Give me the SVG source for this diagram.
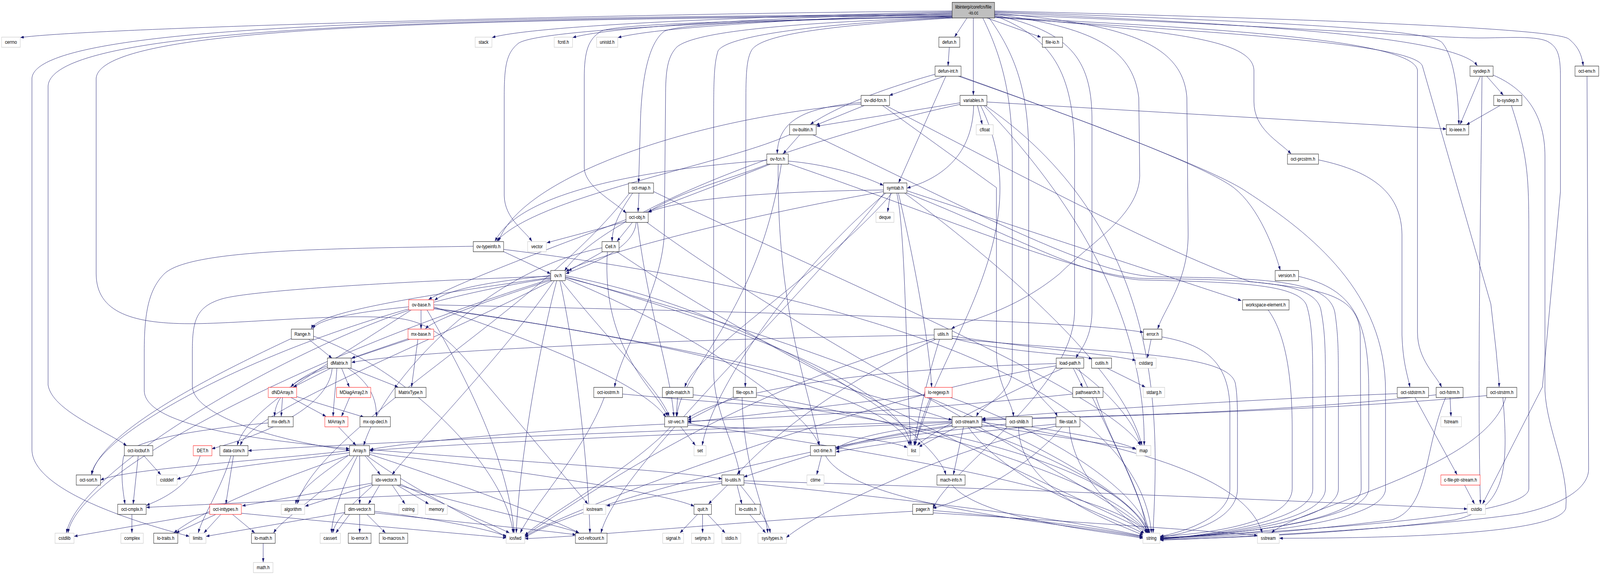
<svg xmlns="http://www.w3.org/2000/svg" width="5058" height="1471" viewBox="0 0 5058 1471" preserveAspectRatio="none">
<style>
svg{width:100%;height:100%}
.e{fill:none;stroke:#191970;stroke-width:1;marker-end:url(#ah)}
.n rect{fill:#fff;stroke:#000;stroke-width:1}
.n.g rect{stroke:#bfbfbf}
.n.r rect{stroke:#ff0000}
.n.root rect{fill:#bfbfbf;stroke:#000}
.n text{font-family:"Liberation Sans",Arial,Helvetica,sans-serif;font-size:13.3px;fill:#000;text-anchor:middle}
</style>
<defs>
<marker id="ah" markerWidth="10" markerHeight="7" refX="10" refY="3.5" orient="auto" markerUnits="userSpaceOnUse"><path d="M0,0 L10,3.5 L0,7 z" fill="#191970" stroke="#191970" stroke-width="0.5"/></marker>
</defs>
<rect x="0" y="0" width="5058" height="1471" fill="#fff"/>
<g id="edges">
<path class="e" d="M3010,28 C2000,35 300,70 65,96"/>
<path class="e" d="M3010,30 C2500,40 1700,62 1556,96"/>
<path class="e" d="M3010,32 C2600,42 1960,62 1811,96"/>
<path class="e" d="M3010,34 C2700,44 2110,64 1954,96"/>
<path class="e" d="M3010,36 C1500,46 115,56 101,200 L101,1150 C101,1250 400,1330 598,1372"/>
<path class="e" d="M3010,38 C1500,48 165,60 152,220 L152,985 C165,1050 330,1100 400,1140"/>
<path class="e" d="M3010,40 C1500,50 320,62 304,200 L304,700 C304,800 420,830 620,828 C800,826 1100,800 1265,815 C1400,830 1470,920 1540,985 L1858,1289"/>
<path class="e" d="M3010,41 C2200,55 1700,80 1640,110 C1600,135 1594,170 1594,250 L1594,500 C1595,560 1660,590 1681,617"/>
<path class="e" d="M3010,42 C2400,52 1950,60 1900,80 C1860,100 1847,130 1847,200 L1847,430 C1850,480 1950,520 1979,545"/>
<path class="e" d="M3010,43 C2500,50 2150,60 2100,80 C2050,110 2030,200 2025,300 L2019,467"/>
<path class="e" d="M3010,44 C2500,58 2200,80 2140,120 C2110,145 2104,180 2104,250 L2100,600 C2090,750 1960,900 1943,990"/>
<path class="e" d="M3010,45 C2600,60 2300,90 2270,130 C2258,160 2256,200 2256,300 L2256,950 C2256,1050 2330,1150 2338,1214"/>
<path class="e" d="M3012,46 C2600,66 2400,90 2375,130 C2362,150 2358,180 2358,250 L2356,990"/>
<path class="e" d="M3057,46 L3018,94"/>
<path class="e" d="M3077,46 L3077,243"/>
<path class="e" d="M3120,46 L3290,95"/>
<path class="e" d="M3107,46 C3170,150 3200,250 3200,400 L3200,950 C3195,1010 3100,1040 3087,1065"/>
<path class="e" d="M3127,46 C3220,150 3252,250 3252,400 L3252,950 C3260,1010 3330,1040 3342,1065"/>
<path class="e" d="M3144,38 C3380,80 3450,150 3452,300 L3452,800 C3450,870 3410,900 3402,916"/>
<path class="e" d="M3144,40 C3340,100 3397,200 3397,400 L3397,800 C3390,1000 3000,1200 2950,1300"/>
<path class="e" d="M3144,36 C3450,70 3580,120 3600,250 L3603,450 C3600,550 3450,620 3350,700 C3200,800 3050,820 3008,841"/>
<path class="e" d="M3144,34 C3550,60 3740,110 3752,250 L3756,600 C3756,720 3680,790 3660,841"/>
<path class="e" d="M3144,32 C3900,60 4600,90 4670,168"/>
<path class="e" d="M3144,28 C4000,45 4920,70 4960,100 C4990,120 5000,140 5005,168"/>
<path class="e" d="M3144,30 C4200,60 4530,80 4560,110 C4600,150 4610,250 4612,318"/>
<path class="e" d="M3144,42 C3700,80 3960,100 3964,180 L3964,260 C3964,330 4040,360 4081,393"/>
<path class="e" d="M3144,44 C3800,70 4470,100 4481,180 L4481,850 C4481,920 4540,960 4557,990"/>
<path class="e" d="M3144,45 C3800,80 4480,110 4497,170 L4713,778 L4730,900 C4735,950 4739,970 4739,990"/>
<path class="e" d="M3144,37 C3900,60 4500,95 4658,97 C4750,98 4844,90 4890,105 C4925,120 4933,140 4933,200 L4933,490 L4876,990 L4687,1289"/>
<path class="e" d="M3001,121 L2997,168"/>
<path class="e" d="M2985,195 L2812,244"/>
<path class="e" d="M2956,190 C2800,225 2650,270 2562,318"/>
<path class="e" d="M2990,195 L2841,467"/>
<path class="e" d="M3030,195 C3400,300 3800,420 3900,480 C3980,530 4030,640 4047,691"/>
<path class="e" d="M3036,195 C3500,330 3850,440 3940,490 C4150,600 4380,750 4380,1000 L4380,1250 C4380,1340 3900,1372 3668,1376"/>
<path class="e" d="M2732,270 L2580,320"/>
<path class="e" d="M2722,262 C2560,275 2460,300 2457,393"/>
<path class="e" d="M2722,266 C2200,300 1650,450 1576,617"/>
<path class="e" d="M2790,270 L3150,480 L3150,900 C3150,980 3200,1030 3204,1065"/>
<path class="e" d="M2800,270 C3300,480 3700,650 3950,720 C4150,740 4290,745 4300,850 L4303,1250 C4303,1340 3850,1370 3668,1377"/>
<path class="e" d="M3090,270 L3105,318"/>
<path class="e" d="M3078,270 C3075,380 3000,450 2868,481"/>
<path class="e" d="M3035,263 L2582,323"/>
<path class="e" d="M3035,267 C2500,360 1900,550 1785,693"/>
<path class="e" d="M3120,261 L4572,330"/>
<path class="e" d="M3100,270 C3300,600 2950,900 2893,1139"/>
<path class="e" d="M3110,270 C3500,600 3620,900 3617,1139"/>
<path class="e" d="M3115,270 C3700,600 3660,1100 3645,1363"/>
<path class="e" d="M4742,270 L4636,319"/>
<path class="e" d="M4778,270 C4830,400 4833,450 4833,600 L4833,1250 C4833,1330 4000,1360 3668,1377"/>
<path class="e" d="M4680,195 L4616,318"/>
<path class="e" d="M4700,195 L4752,243"/>
<path class="e" d="M4685,195 C4680,600 4670,1000 4680,1289"/>
<path class="e" d="M4720,192 C4830,230 4884,300 4884,400 L4884,1000 C4890,1100 4960,1200 4950,1300 C4930,1360 4500,1377 4045,1377"/>
<path class="e" d="M5017,195 L5022,1200 C5022,1260 4900,1300 4800,1315 C4500,1350 3900,1375 3668,1382"/>
<path class="e" d="M2528,345 L2476,393"/>
<path class="e" d="M2500,343 C2300,420 1700,500 1570,617"/>
<path class="e" d="M2570,345 C3100,550 3450,700 3650,708 C4000,712 4200,715 4220,800 C4231,860 4231,900 4231,1000 L4231,1250 C4231,1338 3850,1369 3668,1378"/>
<path class="e" d="M2424,410 C2100,430 1650,480 1565,617"/>
<path class="e" d="M2492,412 C2600,420 2700,440 2792,474"/>
<path class="e" d="M2428,420 C2300,460 2150,490 2050,542"/>
<path class="e" d="M2435,420 C2000,560 1500,700 1355,766"/>
<path class="e" d="M2460,420 C2455,800 2560,1000 2590,1139"/>
<path class="e" d="M2470,420 C2400,800 2150,950 2140,1065"/>
<path class="e" d="M2490,418 C3000,560 3400,700 3600,712 C3950,716 4150,718 4175,790 C4190,850 4190,900 4190,1000 L4190,1250 C4190,1335 3850,1367 3668,1379"/>
<path class="e" d="M4168,409 C4350,440 4430,500 4432,600 L4432,857 C4435,930 4450,960 4457,990"/>
<path class="e" d="M2020,494 L2017,542"/>
<path class="e" d="M2000,494 C1960,540 1935,580 1935,617"/>
<path class="e" d="M1990,494 C1700,800 1000,1100 940,1289"/>
<path class="e" d="M2066,490 C2600,700 3500,1000 3605,1139"/>
<path class="e" d="M2815,494 L2806,542"/>
<path class="e" d="M2793,486 C2400,490 2150,510 2050,543"/>
<path class="e" d="M2793,490 C2300,560 1850,660 1789,695"/>
<path class="e" d="M2867,488 L3924,769"/>
<path class="e" d="M2820,494 C2600,700 2200,900 2165,990"/>
<path class="e" d="M2840,494 C2900,700 2940,900 2945,990"/>
<path class="e" d="M2835,494 C2865,600 2865,1000 2880,1139"/>
<path class="e" d="M2860,494 C3200,700 3550,950 3610,1139"/>
<path class="e" d="M2800,494 C2500,700 2250,1000 2220,1139"/>
<path class="e" d="M2867,494 C3200,600 3400,700 3600,716 C3900,722 4100,725 4130,780 C4150,830 4150,900 4150,1000 L4150,1250 C4150,1330 3850,1365 3668,1380"/>
<path class="e" d="M2795,494 C2500,800 1950,1200 1900,1363"/>
<path class="e" d="M1979,567 L1729,621"/>
<path class="e" d="M1999,569 L1951,617"/>
<path class="e" d="M2011,569 C2005,640 1850,680 1789,700"/>
<path class="e" d="M2015,569 C2050,800 2120,950 2130,1065"/>
<path class="e" d="M2045,569 C2600,900 3500,1250 3632,1363"/>
<path class="e" d="M1590,643 L1740,700"/>
<path class="e" d="M1496,630 C1000,636 600,640 520,700 C470,740 456,800 456,900 L456,1000 C460,1100 900,1130 1104,1148"/>
<path class="e" d="M1592,638 C2800,760 3600,1000 3640,1363"/>
<path class="e" d="M1905,644 L1797,693"/>
<path class="e" d="M1903,634 C1500,700 1200,1000 1150,1139"/>
<path class="e" d="M1920,644 C1900,900 2080,1000 2110,1065"/>
<path class="e" d="M1950,644 C2600,1000 3500,1300 3630,1363"/>
<path class="e" d="M1741,705 C1550,720 1420,740 1374,768"/>
<path class="e" d="M1745,716 C1500,780 1370,820 1345,841"/>
<path class="e" d="M1741,710 C1300,760 1000,800 985,841"/>
<path class="e" d="M1741,707 C1400,715 800,740 700,765 C620,785 608,820 608,900 L608,990 C615,1060 850,1125 1104,1152"/>
<path class="e" d="M1745,718 C1300,900 800,1050 760,1139"/>
<path class="e" d="M1752,718 C1600,900 1300,1150 1240,1214"/>
<path class="e" d="M1787,705 C2400,800 2950,1100 2990,1214"/>
<path class="e" d="M1785,712 C2200,850 2550,1050 2590,1139"/>
<path class="e" d="M1775,718 C1900,850 2090,1000 2115,1065"/>
<path class="e" d="M1741,712 C1000,800 300,1100 290,1214"/>
<path class="e" d="M1741,714 C1000,900 250,1200 215,1363"/>
<path class="e" d="M1760,718 C1700,900 1640,1200 1632,1363"/>
<path class="e" d="M1787,710 C2700,900 3550,1200 3635,1363"/>
<path class="e" d="M1787,708 C2400,850 2850,1000 2880,1139"/>
<path class="e" d="M1770,718 C1820,900 1860,1200 1865,1363"/>
<path class="e" d="M1331,793 L1331,841"/>
<path class="e" d="M1292,785 C1100,800 1000,820 990,841"/>
<path class="e" d="M1300,793 C1000,950 780,1050 750,1139"/>
<path class="e" d="M1371,785 C1800,900 2050,1000 2105,1067"/>
<path class="e" d="M1371,780 C2500,800 3400,820 3614,850"/>
<path class="e" d="M1295,793 C900,900 250,1200 210,1363"/>
<path class="e" d="M1350,793 C1500,1000 1610,1200 1625,1363"/>
<path class="e" d="M1371,790 C2400,900 2850,1050 2875,1139"/>
<path class="e" d="M1371,788 C2800,950 3550,1200 3630,1363"/>
<path class="e" d="M1321,868 L1301,990"/>
<path class="e" d="M1292,866 L1112,916"/>
<path class="e" d="M1295,868 C1100,920 950,960 920,990"/>
<path class="e" d="M976,868 L1049,916"/>
<path class="e" d="M921,866 C700,950 320,1100 290,1214"/>
<path class="e" d="M991,860 C1300,950 1600,1200 1622,1363"/>
<path class="e" d="M1045,942 L928,990"/>
<path class="e" d="M1080,942 L1104,990"/>
<path class="e" d="M1108,942 L1258,990"/>
<path class="e" d="M1035,936 C960,960 870,1000 868,1065"/>
<path class="e" d="M1065,942 C1060,1000 1055,1030 1053,1065"/>
<path class="e" d="M1100,942 C1170,980 1190,1020 1190,1065"/>
<path class="e" d="M1050,942 C1040,1050 800,1120 670,1148"/>
<path class="e" d="M893,1017 L889,1065"/>
<path class="e" d="M920,1017 L1030,1065"/>
<path class="e" d="M935,1014 L1150,1067"/>
<path class="e" d="M1105,1017 L1080,1065"/>
<path class="e" d="M1070,1092 L1125,1139"/>
<path class="e" d="M848,1082 C600,1100 400,1130 390,1170 C380,1220 390,1260 395,1289"/>
<path class="e" d="M1968,1008 C2400,1040 2800,1060 3009,1073"/>
<path class="e" d="M1910,1017 C1850,1150 1680,1300 1645,1363"/>
<path class="e" d="M2142,1017 L2138,1065"/>
<path class="e" d="M2191,1010 C3000,1080 3550,1200 3628,1363"/>
<path class="e" d="M2320,1015 L2175,1075"/>
<path class="e" d="M2346,1017 C2350,1200 2420,1300 2427,1363"/>
<path class="e" d="M2391,1010 C3000,1100 3560,1250 3626,1363"/>
<path class="e" d="M2945,1017 L2890,1139"/>
<path class="e" d="M3005,1017 C3300,1100 3600,1250 3633,1363"/>
<path class="e" d="M2924,1010 C2600,1040 2300,1070 2175,1080"/>
<path class="e" d="M3391,1008 C2900,1050 2400,1070 2175,1078"/>
<path class="e" d="M3465,1017 C3520,1150 3610,1250 3625,1363"/>
<path class="e" d="M4417,1007 C4000,1020 3400,1050 3105,1071"/>
<path class="e" d="M4473,1017 L4606,1214"/>
<path class="e" d="M4584,1017 L4587,1065"/>
<path class="e" d="M4540,1010 C4000,1060 3400,1065 3105,1073"/>
<path class="e" d="M4570,1017 C4500,1150 4520,1300 4400,1330 C4000,1370 3800,1375 3668,1378"/>
<path class="e" d="M4700,1012 C4200,1050 3500,1065 3105,1075"/>
<path class="e" d="M4760,1017 C4700,1200 4100,1300 4020,1363"/>
<path class="e" d="M4751,1017 C4770,1200 4760,1300 4600,1330 C4200,1370 3800,1378 3668,1380"/>
<path class="e" d="M2152,1092 L2198,1139"/>
<path class="e" d="M2101,1085 C1700,1100 1300,1130 1170,1150"/>
<path class="e" d="M2120,1092 C2000,1200 1700,1330 1660,1370"/>
<path class="e" d="M2174,1088 C2500,1100 2800,1120 2868,1145"/>
<path class="e" d="M2174,1083 C2700,1150 3500,1250 3628,1363"/>
<path class="e" d="M3046,1092 L3014,1214"/>
<path class="e" d="M3025,1092 L2905,1143"/>
<path class="e" d="M3104,1087 L3590,1148"/>
<path class="e" d="M3010,1082 C2800,1100 2700,1120 2643,1147"/>
<path class="e" d="M3060,1092 C3200,1250 3550,1330 3615,1366"/>
<path class="e" d="M3104,1080 C3700,1150 3950,1250 3990,1363"/>
<path class="e" d="M3010,1080 C2500,1100 1500,1130 1168,1153"/>
<path class="e" d="M3010,1078 C2000,1100 1000,1140 785,1153"/>
<path class="e" d="M3012,1088 C2700,1120 2500,1180 2352,1220"/>
<path class="e" d="M3015,1090 C2500,1150 1800,1300 1660,1375"/>
<path class="e" d="M3180,1085 C2900,1110 2700,1130 2643,1150"/>
<path class="e" d="M3260,1092 C3400,1110 3550,1130 3592,1150"/>
<path class="e" d="M3220,1092 C3220,1250 3500,1330 3614,1369"/>
<path class="e" d="M3338,1085 C3000,1110 2750,1140 2643,1156"/>
<path class="e" d="M3357,1092 C3250,1200 3050,1280 2950,1300"/>
<path class="e" d="M3380,1092 C3400,1250 3580,1330 3617,1366"/>
<path class="e" d="M3338,1090 C3000,1150 2600,1300 2486,1375"/>
<path class="e" d="M455,1166 L508,1214"/>
<path class="e" d="M437,1166 L421,1289"/>
<path class="e" d="M633,1166 C600,1250 500,1280 463,1293"/>
<path class="e" d="M738,1166 L714,1289"/>
<path class="e" d="M730,1166 C700,1250 640,1320 627,1363"/>
<path class="e" d="M1137,1166 L1137,1289"/>
<path class="e" d="M1154,1166 L1202,1214"/>
<path class="e" d="M1105,1153 C800,1180 400,1200 318,1228"/>
<path class="e" d="M1105,1158 C900,1180 650,1200 560,1226"/>
<path class="e" d="M1100,1166 C1000,1220 940,1260 935,1289"/>
<path class="e" d="M1105,1164 C900,1220 650,1300 550,1363"/>
<path class="e" d="M1120,1166 C1050,1250 900,1320 865,1363"/>
<path class="e" d="M1130,1166 C1080,1250 1050,1320 1048,1363"/>
<path class="e" d="M1168,1150 C1600,1180 2100,1200 2282,1225"/>
<path class="e" d="M1168,1158 C1600,1200 2100,1260 2194,1295"/>
<path class="e" d="M1168,1162 C1500,1250 1750,1330 1830,1363"/>
<path class="e" d="M1160,1166 C1300,1250 1500,1330 1605,1375"/>
<path class="e" d="M1200,1241 L1165,1289"/>
<path class="e" d="M1176,1236 L766,1294"/>
<path class="e" d="M1176,1240 L965,1295"/>
<path class="e" d="M1240,1241 L1280,1289"/>
<path class="e" d="M1255,1241 L1355,1289"/>
<path class="e" d="M1260,1241 C1500,1300 1750,1340 1830,1363"/>
<path class="e" d="M1265,1238 C1400,1290 1550,1340 1610,1363"/>
<path class="e" d="M1180,1241 C1100,1300 1060,1330 1052,1363"/>
<path class="e" d="M2300,1241 L2240,1289"/>
<path class="e" d="M2330,1241 L2345,1289"/>
<path class="e" d="M2282,1236 L1918,1294"/>
<path class="e" d="M2282,1232 C1800,1250 900,1280 463,1298"/>
<path class="e" d="M2352,1235 C2900,1280 3400,1330 3612,1372"/>
<path class="e" d="M2352,1230 C3200,1250 4200,1285 4638,1302"/>
<path class="e" d="M2340,1241 C2400,1300 2430,1340 2435,1363"/>
<path class="e" d="M2597,1166 L2582,1214"/>
<path class="e" d="M2610,1166 C2700,1300 3400,1340 3612,1375"/>
<path class="e" d="M3010,1241 C3100,1330 3500,1360 3613,1377"/>
<path class="e" d="M4630,1241 L4661,1289"/>
<path class="e" d="M417,1316 L417,1363"/>
<path class="e" d="M663,1312 L235,1372"/>
<path class="e" d="M682,1316 L557,1363"/>
<path class="e" d="M698,1316 L645,1363"/>
<path class="e" d="M735,1316 L805,1363"/>
<path class="e" d="M763,1313 C1100,1340 1450,1365 1600,1376"/>
<path class="e" d="M1105,1316 L1062,1363"/>
<path class="e" d="M1137,1316 L1137,1363"/>
<path class="e" d="M1160,1316 L1218,1363"/>
<path class="e" d="M1090,1311 L652,1372"/>
<path class="e" d="M1184,1312 C1500,1340 1700,1355 1820,1368"/>
<path class="e" d="M1184,1308 C1400,1330 1550,1355 1600,1372"/>
<path class="e" d="M2205,1316 L2150,1363"/>
<path class="e" d="M2221,1316 L2221,1363"/>
<path class="e" d="M2237,1316 L2292,1363"/>
<path class="e" d="M2370,1316 L2420,1363"/>
<path class="e" d="M2885,1308 C2400,1330 1900,1370 1660,1378"/>
<path class="e" d="M2950,1306 C3300,1330 3500,1355 3612,1373"/>
<path class="e" d="M2950,1312 C3500,1340 3850,1360 3975,1370"/>
<path class="e" d="M832,1390 L832,1438"/>
<path class="e" d="M3639,868 L3627,916"/>
<path class="e" d="M3673,862 C3800,880 3888,920 3888,1050 L3888,1250 C3888,1320 3750,1360 3668,1372"/>
<path class="e" d="M3010,865 C3200,905 3400,905 3452,918"/>
<path class="e" d="M3010,860 C3300,895 3500,905 3590,922"/>
<path class="e" d="M2953,857 C2000,870 1300,900 1112,927"/>
<path class="e" d="M2958,868 C2600,1000 2400,1150 2330,1214"/>
<path class="e" d="M2955,866 C2300,1000 1800,1300 1658,1370"/>
<path class="e" d="M3010,866 C3500,905 3880,900 3905,980 C3912,1010 3912,1050 3912,1100 L3912,1250 C3912,1330 3760,1365 3668,1374"/>
<path class="e" d="M2970,868 C2920,1000 2895,1100 2890,1139"/>
<path class="e" d="M3393,942 L3422,990"/>
<path class="e" d="M3339,930 C2700,945 2300,1000 2175,1070"/>
<path class="e" d="M3360,942 C3200,1000 2950,1100 2900,1139"/>
<path class="e" d="M3400,942 C3500,1000 3590,1080 3605,1139"/>
<path class="e" d="M3410,942 C3500,1100 3600,1250 3633,1363"/>
<path class="e" d="M3339,936 C2800,1000 1800,1300 1660,1372"/>
<path class="e" d="M3500,942 L3620,990"/>
<path class="e" d="M4009,793 C4060,850 4085,950 4085,1100 L4085,1250 C4085,1330 3850,1365 3668,1372"/>
<path class="e" d="M4105,707 C4280,740 4327,820 4327,1000 L4327,1250 C4327,1330 3900,1370 3668,1375"/>
</g>
<g id="n-root" class="n root"><rect x="3010" y="6" width="134" height="40"/><text x="3077" y="22">libinterp/corefcn/file</text><text x="3077" y="37">-io.cc</text></g>
<g id="n-cerrno" class="n g"><rect x="5" y="95" width="59" height="26"/><text x="34.5" y="112.5">cerrno</text></g>
<g id="n-stack" class="n g"><rect x="1502" y="95" width="53" height="26"/><text x="1528.5" y="112.5">stack</text></g>
<g id="n-fcntl-h" class="n g"><rect x="1752" y="95" width="58" height="26"/><text x="1781" y="112.5">fcntl.h</text></g>
<g id="n-unistd-h" class="n g"><rect x="1886" y="95" width="67" height="26"/><text x="1919.5" y="112.5">unistd.h</text></g>
<g id="n-defun-h" class="n"><rect x="2968" y="95" width="66" height="26"/><text x="3001" y="112.5">defun.h</text></g>
<g id="n-file-io-h" class="n"><rect x="3295" y="95" width="64" height="26"/><text x="3327" y="112.5">file-io.h</text></g>
<g id="n-defun-int-h" class="n"><rect x="2956" y="169" width="82" height="26"/><text x="2997" y="186.5">defun-int.h</text></g>
<g id="n-sysdep-h" class="n"><rect x="4647" y="169" width="73" height="26"/><text x="4683.5" y="186.5">sysdep.h</text></g>
<g id="n-oct-env-h" class="n"><rect x="4979" y="169" width="75" height="26"/><text x="5016.5" y="186.5">oct-env.h</text></g>
<g id="n-ov-dld-fcn-h" class="n"><rect x="2722" y="244" width="90" height="26"/><text x="2767" y="261.5">ov-dld-fcn.h</text></g>
<g id="n-variables-h" class="n"><rect x="3035" y="244" width="85" height="26"/><text x="3077.5" y="261.5">variables.h</text></g>
<g id="n-lo-sysdep-h" class="n"><rect x="4722" y="244" width="89" height="26"/><text x="4766.5" y="261.5">lo-sysdep.h</text></g>
<g id="n-ov-builtin-h" class="n"><rect x="2496" y="319" width="84" height="26"/><text x="2538" y="336.5">ov-builtin.h</text></g>
<g id="n-cfloat" class="n g"><rect x="3086" y="319" width="54" height="26"/><text x="3113" y="336.5">cfloat</text></g>
<g id="n-lo-ieee-h" class="n"><rect x="4572" y="319" width="71" height="26"/><text x="4607.5" y="336.5">lo-ieee.h</text></g>
<g id="n-ov-fcn-h" class="n"><rect x="2424" y="394" width="68" height="26"/><text x="2458" y="411.5">ov-fcn.h</text></g>
<g id="n-oct-prcstrm-h" class="n"><rect x="4070" y="394" width="98" height="26"/><text x="4119" y="411.5">oct-prcstrm.h</text></g>
<g id="n-oct-map-h" class="n"><rect x="1987" y="468" width="79" height="26"/><text x="2026.5" y="485.5">oct-map.h</text></g>
<g id="n-symtab-h" class="n"><rect x="2793" y="468" width="74" height="26"/><text x="2830" y="485.5">symtab.h</text></g>
<g id="n-oct-obj-h" class="n"><rect x="1979" y="543" width="70" height="26"/><text x="2014" y="560.5">oct-obj.h</text></g>
<g id="n-deque" class="n g"><rect x="2769" y="543" width="57" height="26"/><text x="2797.5" y="560.5">deque</text></g>
<g id="n-ov-typeinfo-h" class="n"><rect x="1496" y="618" width="96" height="26"/><text x="1544" y="635.5">ov-typeinfo.h</text></g>
<g id="n-vector" class="n g"><rect x="1668" y="618" width="59" height="26"/><text x="1697.5" y="635.5">vector</text></g>
<g id="n-Cell-h" class="n"><rect x="1903" y="618" width="54" height="26"/><text x="1930" y="635.5">Cell.h</text></g>
<g id="n-ov-h" class="n"><rect x="1741" y="692" width="46" height="26"/><text x="1764" y="709.5">ov.h</text></g>
<g id="n-version-h" class="n"><rect x="4031" y="692" width="74" height="26"/><text x="4068" y="709.5">version.h</text></g>
<g id="n-ov-base-h" class="n r"><rect x="1292" y="767" width="79" height="26"/><text x="1331.5" y="784.5">ov-base.h</text></g>
<g id="n-workspace-element-h" class="n"><rect x="3928" y="767" width="147" height="26"/><text x="4001.5" y="784.5">workspace-element.h</text></g>
<g id="n-Range-h" class="n"><rect x="921" y="842" width="70" height="26"/><text x="956" y="859.5">Range.h</text></g>
<g id="n-mx-base-h" class="n r"><rect x="1290" y="842" width="81" height="26"/><text x="1330.5" y="859.5">mx-base.h</text></g>
<g id="n-utils-h" class="n"><rect x="2953" y="842" width="57" height="26"/><text x="2981.5" y="859.5">utils.h</text></g>
<g id="n-error-h" class="n"><rect x="3615" y="842" width="58" height="26"/><text x="3644" y="859.5">error.h</text></g>
<g id="n-dMatrix-h" class="n"><rect x="1035" y="916" width="75" height="26"/><text x="1072.5" y="933.5">dMatrix.h</text></g>
<g id="n-load-path-h" class="n"><rect x="3339" y="916" width="87" height="26"/><text x="3382.5" y="933.5">load-path.h</text></g>
<g id="n-cutils-h" class="n"><rect x="3451" y="916" width="63" height="26"/><text x="3482.5" y="933.5">cutils.h</text></g>
<g id="n-cstdarg" class="n g"><rect x="3590" y="916" width="65" height="26"/><text x="3622.5" y="933.5">cstdarg</text></g>
<g id="n-dNDArray-h" class="n r"><rect x="848" y="991" width="90" height="26"/><text x="893" y="1008.5">dNDArray.h</text></g>
<g id="n-MDiagArray2-h" class="n r"><rect x="1064" y="991" width="108" height="26"/><text x="1118" y="1008.5">MDiagArray2.h</text></g>
<g id="n-MatrixType-h" class="n"><rect x="1249" y="991" width="98" height="26"/><text x="1298" y="1008.5">MatrixType.h</text></g>
<g id="n-oct-iostrm-h" class="n"><rect x="1877" y="991" width="91" height="26"/><text x="1922.5" y="1008.5">oct-iostrm.h</text></g>
<g id="n-glob-match-h" class="n"><rect x="2094" y="991" width="97" height="26"/><text x="2142.5" y="1008.5">glob-match.h</text></g>
<g id="n-file-ops-h" class="n"><rect x="2318" y="991" width="73" height="26"/><text x="2354.5" y="1008.5">file-ops.h</text></g>
<g id="n-lo-regexp-h" class="n r"><rect x="2924" y="991" width="86" height="26"/><text x="2967" y="1008.5">lo-regexp.h</text></g>
<g id="n-pathsearch-h" class="n"><rect x="3391" y="991" width="96" height="26"/><text x="3439" y="1008.5">pathsearch.h</text></g>
<g id="n-stdarg-h" class="n g"><rect x="3614" y="991" width="68" height="26"/><text x="3648" y="1008.5">stdarg.h</text></g>
<g id="n-oct-stdstrm-h" class="n"><rect x="4417" y="991" width="99" height="26"/><text x="4466.5" y="1008.5">oct-stdstrm.h</text></g>
<g id="n-oct-fstrm-h" class="n"><rect x="4540" y="991" width="85" height="26"/><text x="4582.5" y="1008.5">oct-fstrm.h</text></g>
<g id="n-oct-strstrm-h" class="n"><rect x="4700" y="991" width="95" height="26"/><text x="4747.5" y="1008.5">oct-strstrm.h</text></g>
<g id="n-mx-defs-h" class="n"><rect x="848" y="1066" width="79" height="26"/><text x="887.5" y="1083.5">mx-defs.h</text></g>
<g id="n-MArray-h" class="n r"><rect x="1027" y="1066" width="73" height="26"/><text x="1063.5" y="1083.5">MArray.h</text></g>
<g id="n-mx-op-decl-h" class="n"><rect x="1138" y="1066" width="96" height="26"/><text x="1186" y="1083.5">mx-op-decl.h</text></g>
<g id="n-str-vec-h" class="n"><rect x="2101" y="1066" width="73" height="26"/><text x="2137.5" y="1083.5">str-vec.h</text></g>
<g id="n-oct-stream-h" class="n"><rect x="3010" y="1066" width="94" height="26"/><text x="3057" y="1083.5">oct-stream.h</text></g>
<g id="n-oct-shlib-h" class="n"><rect x="3180" y="1066" width="83" height="26"/><text x="3221.5" y="1083.5">oct-shlib.h</text></g>
<g id="n-file-stat-h" class="n"><rect x="3338" y="1066" width="76" height="26"/><text x="3376" y="1083.5">file-stat.h</text></g>
<g id="n-fstream" class="n g"><rect x="4555" y="1066" width="65" height="26"/><text x="4587.5" y="1083.5">fstream</text></g>
<g id="n-oct-locbuf-h" class="n"><rect x="393" y="1140" width="90" height="26"/><text x="438" y="1157.5">oct-locbuf.h</text></g>
<g id="n-DET-h" class="n r"><rect x="611" y="1140" width="59" height="26"/><text x="640.5" y="1157.5">DET.h</text></g>
<g id="n-data-conv-h" class="n"><rect x="695" y="1140" width="89" height="26"/><text x="739.5" y="1157.5">data-conv.h</text></g>
<g id="n-Array-h" class="n"><rect x="1105" y="1140" width="63" height="26"/><text x="1136.5" y="1157.5">Array.h</text></g>
<g id="n-set" class="n g"><rect x="2194" y="1140" width="38" height="26"/><text x="2213" y="1157.5">set</text></g>
<g id="n-oct-time-h" class="n"><rect x="2562" y="1140" width="79" height="26"/><text x="2601.5" y="1157.5">oct-time.h</text></g>
<g id="n-list" class="n g"><rect x="2869" y="1140" width="38" height="26"/><text x="2888" y="1157.5">list</text></g>
<g id="n-map" class="n g"><rect x="3592" y="1140" width="46" height="26"/><text x="3615" y="1157.5">map</text></g>
<g id="n-oct-sort-h" class="n"><rect x="241" y="1215" width="77" height="26"/><text x="279.5" y="1232.5">oct-sort.h</text></g>
<g id="n-cstddef" class="n g"><rect x="495" y="1215" width="65" height="26"/><text x="527.5" y="1232.5">cstddef</text></g>
<g id="n-idx-vector-h" class="n"><rect x="1176" y="1215" width="90" height="26"/><text x="1221" y="1232.5">idx-vector.h</text></g>
<g id="n-lo-utils-h" class="n"><rect x="2282" y="1215" width="70" height="26"/><text x="2317" y="1232.5">lo-utils.h</text></g>
<g id="n-ctime" class="n g"><rect x="2551" y="1215" width="54" height="26"/><text x="2578" y="1232.5">ctime</text></g>
<g id="n-mach-info-h" class="n"><rect x="2962" y="1215" width="89" height="26"/><text x="3006.5" y="1232.5">mach-info.h</text></g>
<g id="n-c-file-ptr-stream-h" class="n r"><rect x="4555" y="1215" width="124" height="26"/><text x="4617" y="1232.5">c-file-ptr-stream.h</text></g>
<g id="n-oct-cmplx-h" class="n"><rect x="372" y="1290" width="90" height="26"/><text x="417" y="1307.5">oct-cmplx.h</text></g>
<g id="n-oct-inttypes-h" class="n r"><rect x="663" y="1290" width="100" height="26"/><text x="713" y="1307.5">oct-inttypes.h</text></g>
<g id="n-algorithm" class="n g"><rect x="889" y="1290" width="74" height="26"/><text x="926" y="1307.5">algorithm</text></g>
<g id="n-dim-vector-h" class="n"><rect x="1090" y="1290" width="94" height="26"/><text x="1137" y="1307.5">dim-vector.h</text></g>
<g id="n-cstring" class="n g"><rect x="1261" y="1290" width="60" height="26"/><text x="1291" y="1307.5">cstring</text></g>
<g id="n-memory" class="n g"><rect x="1345" y="1290" width="69" height="26"/><text x="1379.5" y="1307.5">memory</text></g>
<g id="n-iostream" class="n g"><rect x="1844" y="1290" width="71" height="26"/><text x="1879.5" y="1307.5">iostream</text></g>
<g id="n-quit-h" class="n"><rect x="2194" y="1290" width="55" height="26"/><text x="2221.5" y="1307.5">quit.h</text></g>
<g id="n-lo-cutils-h" class="n"><rect x="2325" y="1290" width="78" height="26"/><text x="2364" y="1307.5">lo-cutils.h</text></g>
<g id="n-pager-h" class="n"><rect x="2885" y="1290" width="65" height="26"/><text x="2917.5" y="1307.5">pager.h</text></g>
<g id="n-cstdio" class="n g"><rect x="4639" y="1290" width="57" height="26"/><text x="4667.5" y="1307.5">cstdio</text></g>
<g id="n-cstdlib" class="n g"><rect x="174" y="1364" width="60" height="26"/><text x="204" y="1381.5">cstdlib</text></g>
<g id="n-complex" class="n g"><rect x="382" y="1364" width="71" height="26"/><text x="417.5" y="1381.5">complex</text></g>
<g id="n-lo-traits-h" class="n"><rect x="486" y="1364" width="76" height="26"/><text x="524" y="1381.5">lo-traits.h</text></g>
<g id="n-limits" class="n g"><rect x="599" y="1364" width="52" height="26"/><text x="625" y="1381.5">limits</text></g>
<g id="n-lo-math-h" class="n"><rect x="795" y="1364" width="75" height="26"/><text x="832.5" y="1381.5">lo-math.h</text></g>
<g id="n-cassert" class="n g"><rect x="1012" y="1364" width="64" height="26"/><text x="1044" y="1381.5">cassert</text></g>
<g id="n-lo-error-h" class="n"><rect x="1101" y="1364" width="72" height="26"/><text x="1137" y="1381.5">lo-error.h</text></g>
<g id="n-lo-macros-h" class="n"><rect x="1199" y="1364" width="90" height="26"/><text x="1244" y="1381.5">lo-macros.h</text></g>
<g id="n-iosfwd" class="n g"><rect x="1600" y="1364" width="59" height="26"/><text x="1629.5" y="1381.5">iosfwd</text></g>
<g id="n-oct-refcount-h" class="n"><rect x="1819" y="1364" width="100" height="26"/><text x="1869" y="1381.5">oct-refcount.h</text></g>
<g id="n-signal-h" class="n g"><rect x="2095" y="1364" width="66" height="26"/><text x="2128" y="1381.5">signal.h</text></g>
<g id="n-setjmp-h" class="n g"><rect x="2186" y="1364" width="71" height="26"/><text x="2221.5" y="1381.5">setjmp.h</text></g>
<g id="n-stdio-h" class="n g"><rect x="2282" y="1364" width="60" height="26"/><text x="2312" y="1381.5">stdio.h</text></g>
<g id="n-sys-types-h" class="n g"><rect x="2396" y="1364" width="90" height="26"/><text x="2441" y="1381.5">sys/types.h</text></g>
<g id="n-string" class="n g"><rect x="3613" y="1364" width="54" height="26"/><text x="3640" y="1381.5">string</text></g>
<g id="n-sstream" class="n g"><rect x="3975" y="1364" width="69" height="26"/><text x="4009.5" y="1381.5">sstream</text></g>
<g id="n-math-h" class="n g"><rect x="801" y="1439" width="62" height="26"/><text x="832" y="1456.5">math.h</text></g>
</svg>
